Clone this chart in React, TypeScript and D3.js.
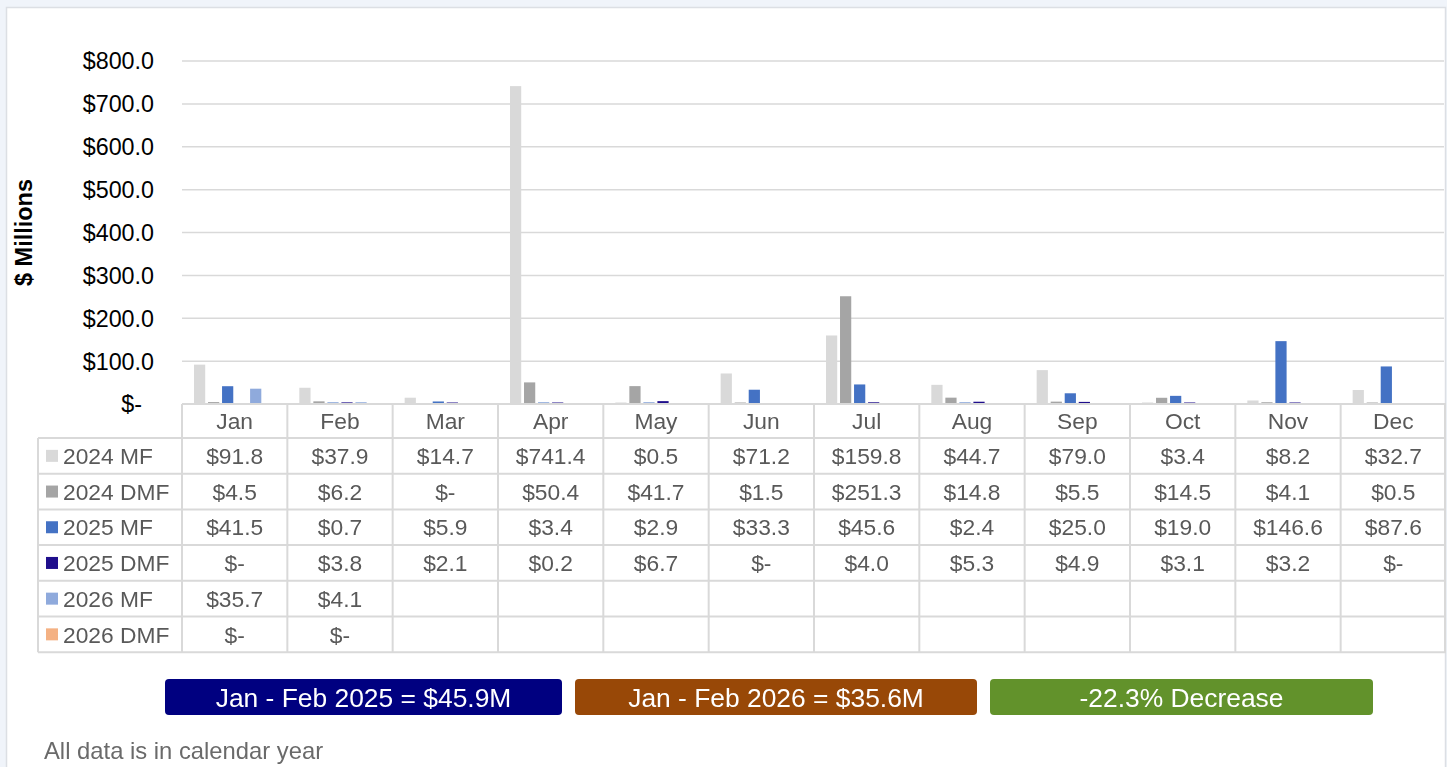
import React from "react";
import * as d3 from "d3";

const months = ["Jan", "Feb", "Mar", "Apr", "May", "Jun", "Jul", "Aug", "Sep", "Oct", "Nov", "Dec"];
const seriesNames = ["2024 MF", "2024 DMF", "2025 MF", "2025 DMF", "2026 MF", "2026 DMF"];
const seriesColors = ["#d9d9d9", "#a5a5a5", "#4472c4", "#1f0e8c", "#8faadc", "#f4b183"];

const mf2024 = [91.8, 37.9, 14.7, 741.4, 0.5, 71.2, 159.8, 44.7, 79.0, 3.4, 8.2, 32.7];
const dmf2024 = [4.5, 6.2, 0, 50.4, 41.7, 1.5, 251.3, 14.8, 5.5, 14.5, 4.1, 0.5];
const mf2025 = [41.5, 0.7, 5.9, 3.4, 2.9, 33.3, 45.6, 2.4, 25.0, 19.0, 146.6, 87.6];
const dmf2025 = [0, 3.8, 2.1, 0.2, 6.7, 0, 4.0, 5.3, 4.9, 3.1, 3.2, 0];
const mf2026: (number | null)[] = [35.7, 4.1, null, null, null, null, null, null, null, null, null, null];
const dmf2026: (number | null)[] = [0, 0, null, null, null, null, null, null, null, null, null, null];

const seriesValues: (number | null)[][] = [mf2024, dmf2024, mf2025, dmf2025, mf2026, dmf2026];
const yTicks = [0, 100, 200, 300, 400, 500, 600, 700, 800];

const summaryBoxes = [
  { label: "Jan - Feb 2025 = $45.9M", color: "#000080" },
  { label: "Jan - Feb 2026 = $35.6M", color: "#984807" },
  { label: "-22.3% Decrease", color: "#62922b" },
];
const footnote = "All data is in calendar year";

const W = 1447;
const H = 767;
const plotLeft = 182;
const plotRight = 1446;
const plotTop = 61;
const plotBottom = 404;
const tableLeft = 38;
const headerBottom = 438;
const rowH = 35.7;

const FONT = "'Liberation Sans', Arial, sans-serif";
const TXT = "#595959";
const GRID = "#d9d9d9";

const fmt = (v: number) => (v === 0 ? "$-" : "$" + v.toFixed(1));

export default function App() {
  const x0 = d3.scaleBand<string>().domain(months).range([plotLeft, plotRight]).padding(0);
  const bw = x0.bandwidth();
  const x1 = d3
    .scaleBand<string>()
    .domain(seriesNames)
    .range([12, bw - 12])
    .paddingInner(0.2)
    .paddingOuter(0);
  const y = d3.scaleLinear().domain([0, 800]).range([plotBottom, plotTop]);

  const rowsBottom = headerBottom + rowH * seriesNames.length;
  const boxXs = [
    [165, 562],
    [575, 977],
    [990, 1373],
  ];

  return (
    <svg
      width={W}
      height={H}
      style={{ position: "fixed", left: 0, top: 0, display: "block" }}
      fontFamily={FONT}
    >
      <rect x={0} y={0} width={W} height={H} fill="#f0f4fa" />
      <rect x={6.5} y={7.5} width={1439} height={H} fill="#ffffff" stroke="#dcdfe4" strokeWidth={1.5} />

      {/* grid lines */}
      {yTicks.filter((t) => t > 0).map((t) => (
        <line key={t} x1={plotLeft} x2={plotRight - 2} y1={y(t)} y2={y(t)} stroke={GRID} strokeWidth={1.5} />
      ))}

      {/* y tick labels */}
      {yTicks.map((t) => (
        <text
          key={t}
          x={t === 0 ? 142 : 154}
          y={y(t)}
          dy="0.36em"
          textAnchor="end"
          fontSize={23.3}
          fill="#000"
        >
          {t === 0 ? "$-" : "$" + t.toFixed(1)}
        </text>
      ))}

      <text
        transform={`translate(32, ${(178 + 287) / 2}) rotate(-90)`}
        textAnchor="middle"
        fontSize={23.5}
        fontWeight="bold"
        fill="#000"
      >
        $ Millions
      </text>

      {/* bars */}
      {seriesNames.map((s, si) =>
        months.map((m, mi) => {
          const v = seriesValues[si][mi];
          if (v === null || v === 0) return null;
          const top = y(v);
          return (
            <rect
              key={s + m}
              x={(x0(m) as number) + (x1(s) as number)}
              y={Math.min(top, plotBottom - 1.5)}
              width={x1.bandwidth()}
              height={Math.max(plotBottom - top, 1.5)}
              fill={seriesColors[si]}
            />
          );
        })
      )}

      {/* table lines */}
      <g stroke={GRID} strokeWidth={2}>
        <line x1={plotLeft} x2={plotRight} y1={plotBottom} y2={plotBottom} />
        {seriesNames.map((s, i) => (
          <line key={s} x1={tableLeft} x2={plotRight} y1={headerBottom + rowH * i} y2={headerBottom + rowH * i} />
        ))}
        <line x1={tableLeft} x2={plotRight} y1={rowsBottom} y2={rowsBottom} />
        <line x1={tableLeft} x2={tableLeft} y1={headerBottom} y2={rowsBottom} />
        {months.map((m) => (
          <line key={m} x1={x0(m) as number} x2={x0(m) as number} y1={plotBottom} y2={rowsBottom} />
        ))}
        <line x1={plotRight - 1} x2={plotRight - 1} y1={plotBottom} y2={rowsBottom} />
      </g>

      {/* month headers */}
      {months.map((m) => (
        <text
          key={m}
          x={(x0(m) as number) + bw / 2}
          y={(plotBottom + headerBottom) / 2}
          dy="0.36em"
          textAnchor="middle"
          fontSize={22.8}
          fill={TXT}
        >
          {m}
        </text>
      ))}

      {/* rows */}
      {seriesNames.map((s, si) => {
        const cy = headerBottom + rowH * si + rowH / 2;
        return (
          <g key={s}>
            <rect x={46} y={cy - 6} width={12} height={12} fill={seriesColors[si]} />
            <text x={63} y={cy} dy="0.36em" fontSize={22.8} fill={TXT}>
              {s}
            </text>
            {months.map((m, mi) => {
              const v = seriesValues[si][mi];
              if (v === null) return null;
              return (
                <text
                  key={m}
                  x={(x0(m) as number) + bw / 2}
                  y={cy}
                  dy="0.36em"
                  textAnchor="middle"
                  fontSize={22.8}
                  fill={TXT}
                >
                  {fmt(v)}
                </text>
              );
            })}
          </g>
        );
      })}

      {/* summary boxes */}
      {summaryBoxes.map((b, i) => (
        <g key={b.label}>
          <rect x={boxXs[i][0]} y={679} width={boxXs[i][1] - boxXs[i][0]} height={36} rx={4} fill={b.color} />
          <text
            x={(boxXs[i][0] + boxXs[i][1]) / 2}
            y={697}
            dy="0.36em"
            textAnchor="middle"
            fontSize={26.4}
            fill="#ffffff"
          >
            {b.label}
          </text>
        </g>
      ))}

      <text x={44} y={750} dy="0.36em" fontSize={23.8} fill="#6a6a6a">
        {footnote}
      </text>
    </svg>
  );
}
